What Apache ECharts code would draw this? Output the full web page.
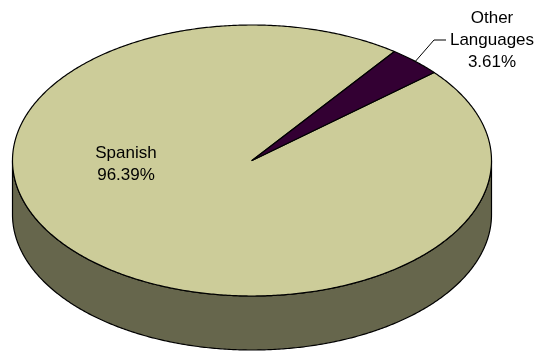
<!DOCTYPE html>
<html><head><meta charset="utf-8">
<script src="https://cdn.jsdelivr.net/npm/echarts@6/dist/echarts.min.js"></script>
<style>html,body{margin:0;padding:0;background:#fff}#c{width:537px;height:352px}</style>
</head><body><div id="c"></div>
<script>
// ---- data ----
const categories = ['Spanish', 'Other Languages'];
const shares = [96.39, 3.61];

// ---- style / geometry ----
const topColors = ['#CCCC99', '#330033'];
const sideColors = ['#66664C', '#1A001A'];
const G = { cx: 252, cy: 160.5, rx: 239.5, ry: 135.5, depth: 54, start: 40.5 };
const labelCenters = [[126, 164.5], [492, 40]];
const leaderElbows = [null, [[434, 40], [446, 40]]];
const FONT = '17px "Liberation Sans", Arial, sans-serif';

const total = shares.reduce((a, b) => a + b, 0);
const spans = [];
(function () {
  let cum = 0;
  shares.forEach(v => {
    const s = G.start - 360 * cum / total;
    cum += v;
    const e = G.start - 360 * cum / total;
    spans.push([e, s]); // low, high (clockwise drawing from s to e)
  });
})();

function pt(deg, dy) {
  const r = deg * Math.PI / 180;
  return [G.cx + G.rx * Math.cos(r), G.cy - G.ry * Math.sin(r) + (dy || 0)];
}
function arc(a, b, dy) {
  const n = Math.max(2, Math.ceil(Math.abs(b - a) / 0.5));
  const out = [];
  for (let k = 0; k <= n; k++) out.push(pt(a + (b - a) * k / n, dy));
  return out;
}

function renderSide(params, api) {
  const i = params.dataIndex;
  const [lo, hi] = spans[i];
  const children = [];
  for (let k = -3; k <= 3; k++) {
    const p = Math.max(lo, 180 + 360 * k), q = Math.min(hi, 360 + 360 * k);
    if (q > p) {
      const pts = arc(p, q, 0).concat(arc(q, p, G.depth));
      children.push({
        type: 'polygon', shape: { points: pts },
        style: { fill: sideColors[i], stroke: '#000', lineWidth: 1.2, lineJoin: 'round' }
      });
    }
  }
  return { type: 'group', children };
}

function renderTop(params, api) {
  const i = params.dataIndex;
  const [lo, hi] = spans[i];
  const pts = [[G.cx, G.cy]].concat(arc(hi, lo, 0));
  return {
    type: 'polygon', shape: { points: pts },
    style: { fill: topColors[i], stroke: '#000', lineWidth: 1.2, lineJoin: 'round' }
  };
}

function renderLabel(params, api) {
  const i = params.dataIndex;
  const [lo, hi] = spans[i];
  const txt = categories[i].replace(' ', '\n') + '\n' + api.value(0).toFixed(2) + '%';
  const children = [{
    type: 'text',
    style: {
      text: txt, x: labelCenters[i][0], y: labelCenters[i][1],
      align: 'center', verticalAlign: 'middle',
      font: FONT, lineHeight: 22, fill: '#000'
    }
  }];
  if (leaderElbows[i]) {
    const m = pt((lo + hi) / 2, 0);
    children.push({
      type: 'polyline', shape: { points: [m].concat(leaderElbows[i]) },
      style: { stroke: '#000', lineWidth: 1, fill: null }
    });
  }
  return { type: 'group', children };
}

const chart = echarts.init(document.getElementById('c'), null, { renderer: 'canvas' });
const data = shares.map((v, i) => ({ name: categories[i], value: [v] }));
chart.setOption({
  animation: false,
  series: [
    { type: 'custom', coordinateSystem: 'none', renderItem: renderSide, data, z: 1, silent: true },
    { type: 'custom', coordinateSystem: 'none', renderItem: renderTop, data, z: 2, silent: true },
    { type: 'custom', coordinateSystem: 'none', renderItem: renderLabel, data, z: 3, silent: true }
  ]
});
</script>
</body></html>
